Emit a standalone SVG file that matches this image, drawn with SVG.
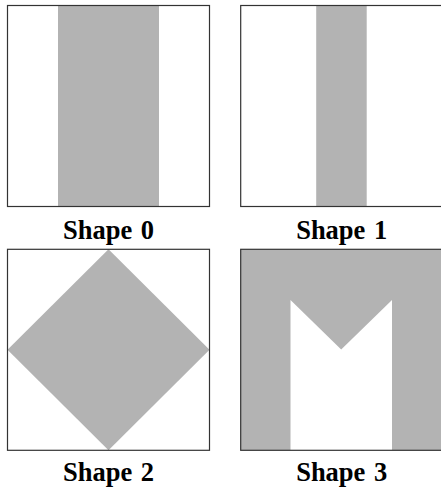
<svg xmlns="http://www.w3.org/2000/svg" width="441" height="487" viewBox="0 0 441 487">
<style>
.frame{fill:none;stroke:#333;stroke-width:1.2}
.bg{fill:#fff}
.fill{fill:#b3b3b3}
.lbl{font-family:"Liberation Serif","Times New Roman",serif;font-weight:bold;font-size:26.5px;fill:#000;text-anchor:middle;word-spacing:2px}
</style>
<rect x="0" y="0" width="441" height="487" fill="#fff"/>
<g id="shape0">
<rect class="bg" x="7.5" y="5.5" width="202" height="201"/>
<rect class="fill" x="58" y="5.5" width="101" height="201"/>
<rect class="frame" x="7.5" y="5.5" width="202" height="201"/>
<text class="lbl" x="108.5" y="239">Shape 0</text>
</g>
<g id="shape1">
<rect class="bg" x="240.7" y="5.5" width="202" height="201"/>
<rect class="fill" x="316.2" y="5.5" width="50.5" height="201"/>
<rect class="frame" x="240.7" y="5.5" width="202" height="201"/>
<text class="lbl" x="341.7" y="239">Shape 1</text>
</g>
<g id="shape2">
<rect class="bg" x="7.5" y="249.3" width="202" height="201"/>
<polygon class="fill" points="108.5,249.3 209.5,349.8 108.5,450.3 7.5,349.8"/>
<rect class="frame" x="7.5" y="249.3" width="202" height="201"/>
<text class="lbl" x="108.5" y="481">Shape 2</text>
</g>
<g id="shape3">
<rect class="fill" x="240.7" y="249.3" width="202" height="201"/>
<polygon class="bg" points="290.5,300 341.2,349.5 392,300 392,450.3 290.5,450.3"/>
<rect class="frame" x="240.7" y="249.3" width="202" height="201"/>
<text class="lbl" x="341.7" y="481">Shape 3</text>
</g>
</svg>
